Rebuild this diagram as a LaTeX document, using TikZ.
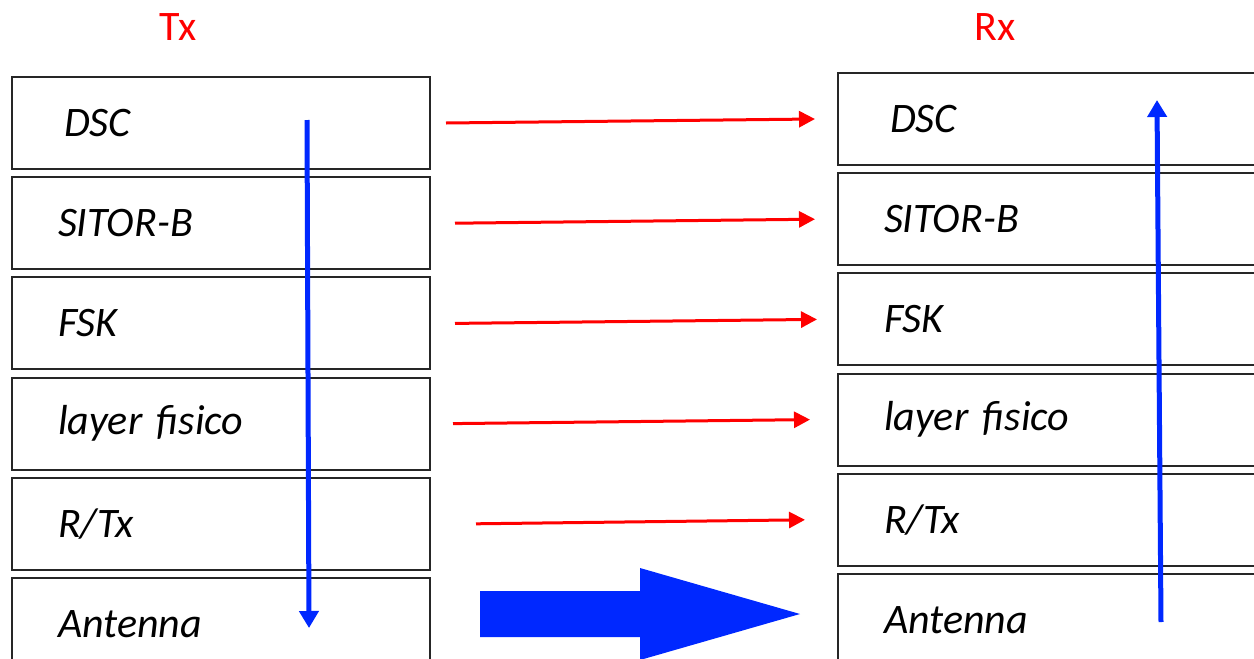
\documentclass[tikz,border=0pt]{standalone}
\usepackage{fontspec}
\setmainfont{Carlito}
\usetikzlibrary{arrows.meta,positioning}
\definecolor{flowblue}{RGB}{0,40,255}

\begin{document}
\begin{tikzpicture}[
  x=0.5pt, y=-0.5pt,
  layer/.style={rectangle, draw=black!85, line width=1pt, outer sep=0pt,
    text width=163pt, align=left, inner xsep=23pt, inner ysep=0pt,
    minimum height=46pt, font=\fontsize{21}{25}\selectfont\itshape},
  side/.style={text=red, font=\fontsize{21}{25}\selectfont},
  peer/.style={-{Triangle[length=8pt,width=8pt]}, red, line width=1.5pt},
  flow/.style={-{Triangle[length=8.5pt,width=9.5pt]}, flowblue, line width=2.5pt}
]
  \useasboundingbox (0,0) rectangle (1254,659);
  \clip (0,0) rectangle (1254,659);

  \node[side] (tx) at (178,27) {Tx};
  \node[side] (rx) at (995,27) {Rx};

  % transmitter stack
  \node[layer, anchor=north west] (txdsc) at (12,77) {\hspace{3pt}DSC};
  \node[layer, below=4.1pt of txdsc] (txsitor) {SITOR-B};
  \node[layer, below=4.1pt of txsitor] (txfsk) {FSK};
  \node[layer, below=4.1pt of txfsk] (txphy) {layer fisico};
  \node[layer, below=4.1pt of txphy] (txrtx) {R/Tx};
  \node[layer, below=4.1pt of txrtx] (txant) {Antenna};

  % receiver stack
  \node[layer, anchor=north west] (rxdsc) at (838,73) {\hspace{3pt}DSC};
  \node[layer, below=4.1pt of rxdsc] (rxsitor) {SITOR-B};
  \node[layer, below=4.1pt of rxsitor] (rxfsk) {FSK};
  \node[layer, below=4.1pt of rxfsk] (rxphy) {layer fisico};
  \node[layer, below=4.1pt of rxphy] (rxrtx) {R/Tx};
  \node[layer, below=4.1pt of rxrtx] (rxant) {Antenna};

  % peer links
  \draw[peer] ([xshift=8pt]txdsc.east) -- ([xshift=-11.5pt]rxdsc.west);
  \draw[peer] ([xshift=12.5pt]txsitor.east) -- ([xshift=-11.5pt]rxsitor.west);
  \draw[peer] ([xshift=12.5pt]txfsk.east) -- ([xshift=-10.5pt]rxfsk.west);
  \draw[peer] ([xshift=11.5pt]txphy.east) -- ([xshift=-14pt]rxphy.west);
  \draw[peer] ([xshift=23pt]txrtx.east) -- ([xshift=-16.5pt]rxrtx.west);

  % data flow down and up the stacks
  \draw[flow] ([shift={(43pt,1.5pt)}]txdsc.center) -- ([shift={(44pt,-2pt)}]txant.center);
  \draw[flow] ([shift={(57pt,-1pt)}]rxant.center) -- ([shift={(55pt,9.5pt)}]rxdsc.center);

  % radio link
  \coordinate (bigtail) at ([shift={(25pt,5pt)}]txant.east);
  \fill[flowblue] (bigtail) +(0,-23) -- +(160,-23) -- +(160,-46) -- +(320,0)
    -- +(160,46) -- +(160,23) -- +(0,23) -- cycle;
\end{tikzpicture}
\end{document}
